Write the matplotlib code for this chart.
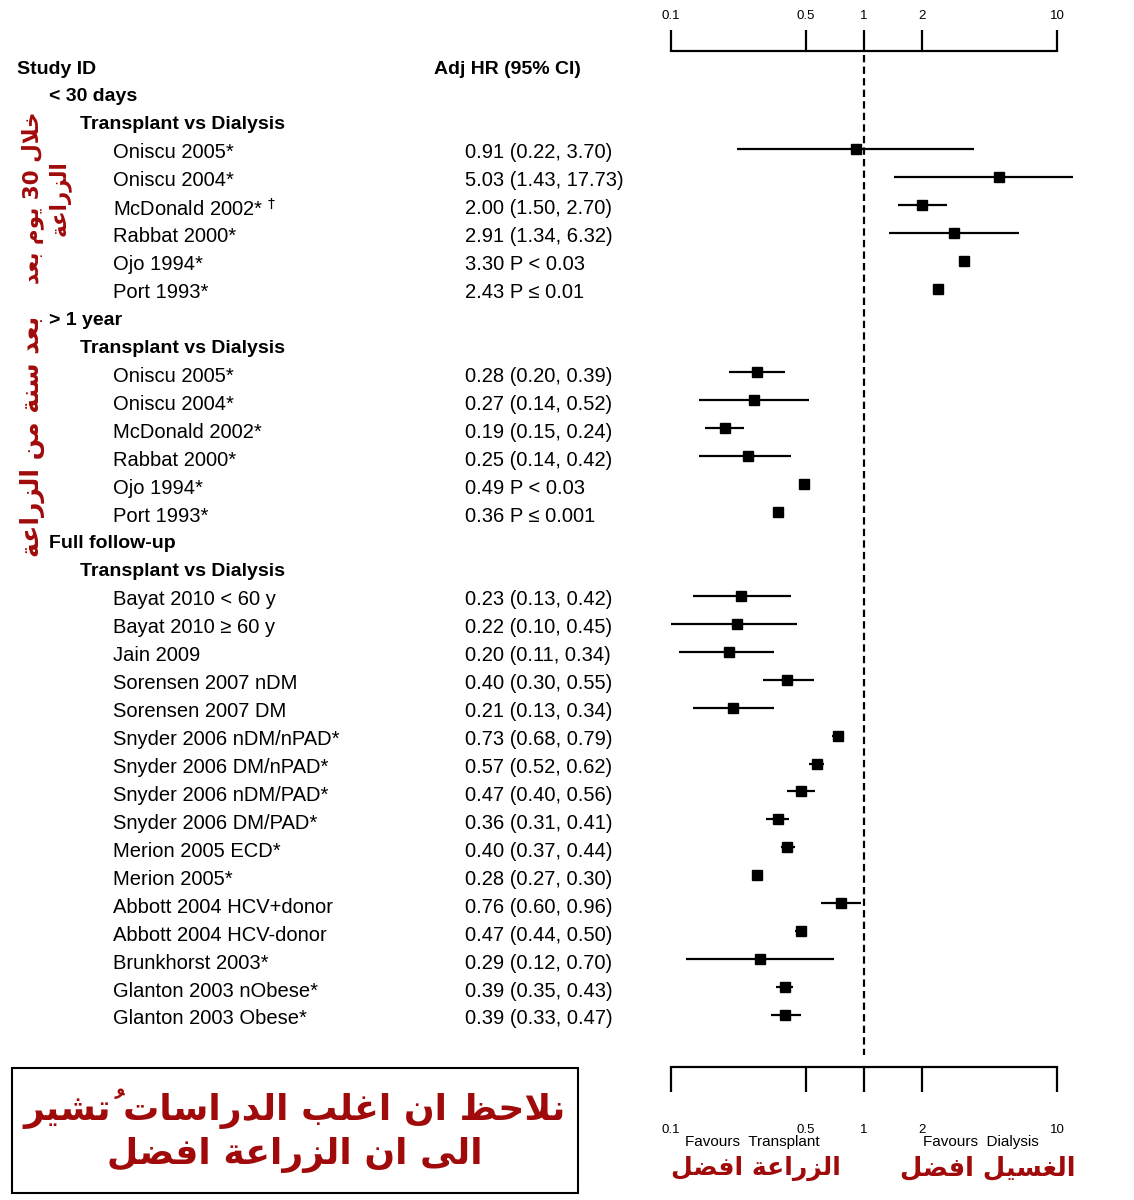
import numpy as np
import matplotlib
matplotlib.use("Agg")
import matplotlib.pyplot as plt
from matplotlib.patches import Rectangle

plt.rcParams["font.family"] = ["Liberation Sans", "DejaVu Sans"]

# ---- data ----
sections = ["< 30 days", "> 1 year", "Full follow-up"]
group_label = "Transplant vs Dialysis"

studies_30d = ["Oniscu 2005*", "Oniscu 2004*", "McDonald 2002* $^{\\dagger}$", "Rabbat 2000*",
               "Ojo 1994*", "Port 1993*"]
hr_30d = [0.91, 5.03, 2.00, 2.91, 3.30, 2.43]
lo_30d = [0.22, 1.43, 1.50, 1.34, np.nan, np.nan]
hi_30d = [3.70, 17.73, 2.70, 6.32, np.nan, np.nan]
p_30d = [None, None, None, None, "P < 0.03", "P \u2264 0.01"]

studies_1y = ["Oniscu 2005*", "Oniscu 2004*", "McDonald 2002*", "Rabbat 2000*",
              "Ojo 1994*", "Port 1993*"]
hr_1y = [0.28, 0.27, 0.19, 0.25, 0.49, 0.36]
lo_1y = [0.20, 0.14, 0.15, 0.14, np.nan, np.nan]
hi_1y = [0.39, 0.52, 0.24, 0.42, np.nan, np.nan]
p_1y = [None, None, None, None, "P < 0.03", "P \u2264 0.001"]

studies_full = ["Bayat 2010 < 60 y", "Bayat 2010 \u2265 60 y", "Jain 2009",
                "Sorensen 2007 nDM", "Sorensen 2007 DM", "Snyder 2006 nDM/nPAD*",
                "Snyder 2006 DM/nPAD*", "Snyder 2006 nDM/PAD*", "Snyder 2006 DM/PAD*",
                "Merion 2005 ECD*", "Merion 2005*", "Abbott 2004 HCV+donor",
                "Abbott 2004 HCV-donor", "Brunkhorst 2003*", "Glanton 2003 nObese*",
                "Glanton 2003 Obese*"]
hr_full = [0.23, 0.22, 0.20, 0.40, 0.21, 0.73, 0.57, 0.47, 0.36, 0.40, 0.28, 0.76,
           0.47, 0.29, 0.39, 0.39]
lo_full = [0.13, 0.10, 0.11, 0.30, 0.13, 0.68, 0.52, 0.40, 0.31, 0.37, 0.27, 0.60,
           0.44, 0.12, 0.35, 0.33]
hi_full = [0.42, 0.45, 0.34, 0.55, 0.34, 0.79, 0.62, 0.56, 0.41, 0.44, 0.30, 0.96,
           0.50, 0.70, 0.43, 0.47]
p_full = [None] * len(hr_full)

ticks = [0.1, 0.5, 1, 2, 10]
tick_labels = ["0.1", "0.5", "1", "2", "10"]

ar_30d = ["خلال 30 يوم بعد", "الزراعة"]
ar_1y = "بعد سنة من الزراعة"
ar_note = ["نلاحظ ان اغلب الدراسات تُشير", "الى ان الزراعة افضل"]
ar_left = "الزراعة افضل"
ar_right = "الغسيل افضل"

# ---- tiny arabic shaper (presentation forms + visual order) ----
FORMS = {
    "ا": (0xFE8D, 2), "ب": (0xFE8F, 4), "ة": (0xFE93, 2), "ت": (0xFE95, 4),
    "ح": (0xFEA1, 4), "خ": (0xFEA5, 4), "د": (0xFEA9, 2), "ر": (0xFEAD, 2),
    "ز": (0xFEAF, 2), "س": (0xFEB1, 4), "ش": (0xFEB5, 4), "ض": (0xFEBD, 4),
    "ظ": (0xFEC5, 4), "ع": (0xFEC9, 4), "غ": (0xFECD, 4), "ف": (0xFED1, 4),
    "ل": (0xFEDD, 4), "م": (0xFEE1, 4), "ن": (0xFEE5, 4), "و": (0xFEED, 2),
    "ى": (0xFEEF, 2), "ي": (0xFEF1, 4), "LA": (0xFEFB, 2),
}
MARKS = {"\u064F"}


def shape_word(word):
    if not any(c in FORMS for c in word):
        return word
    clusters = []
    for c in word:
        if c in MARKS and clusters:
            clusters[-1][1] += c
        else:
            clusters.append([c, ""])
    merged = []
    for cl in clusters:
        if merged and cl[0] == "ا" and merged[-1][0] == "ل" and not merged[-1][1]:
            merged[-1] = ["LA", cl[1]]
        else:
            merged.append(cl)
    out = []
    for i, (b, m) in enumerate(merged):
        base, n = FORMS[b]
        prev_join = i > 0 and FORMS[merged[i - 1][0]][1] == 4
        next_join = n == 4 and i < len(merged) - 1
        if prev_join and next_join:
            k = 3
        elif prev_join:
            k = 1
        elif next_join:
            k = 2
        else:
            k = 0
        out.append(chr(base + k) + m)
    return "".join(reversed(out))


def ar(line):
    return " ".join(reversed([shape_word(w) for w in line.split()]))


# ---- layout ----
W, H = 1134, 1200
fig = plt.figure(figsize=(W / 100, H / 100), dpi=100)
ax = fig.add_axes([0, 0, 1, 1])
ax.set_xlim(0, W)
ax.set_ylim(H, 0)
ax.axis("off")

x0, x1 = 671, 1057          # 0.1 and 10
x_clip = 1073
dec = (x1 - x0) / 2
axf = fig.add_axes([x0 / W, 0, (x_clip - x0) / W, 1])
axf.set_xscale("log")
axf.set_xlim(0.1, 10 ** (-1 + (x_clip - x0) / dec))
axf.set_ylim(H, 0)
axf.axis("off")

row_y = lambda i: 68 + 27.94 * i
FS = 14.5
red = "#a00a0a"

ax.text(17, row_y(0) + 1, "Study ID", fontsize=14, fontweight="bold", va="center")
ax.text(434, row_y(0) + 1, "Adj HR (95% CI)", fontsize=14, fontweight="bold", va="center")

blocks = [(studies_30d, hr_30d, lo_30d, hi_30d, p_30d),
          (studies_1y, hr_1y, lo_1y, hi_1y, p_1y),
          (studies_full, hr_full, lo_full, hi_full, p_full)]
r = 1
for sec, (names, hr, lo, hi, pv) in zip(sections, blocks):
    ax.text(49, row_y(r) + 1, sec, fontsize=14, fontweight="bold", va="center")
    ax.text(80, row_y(r + 1) + 1, group_label, fontsize=14, fontweight="bold", va="center")
    r += 2
    ys = []
    for name, h, l, u, p in zip(names, hr, lo, hi, pv):
        y = row_y(r)
        ys.append(y - 3)
        ax.text(113, y + 1, name, fontsize=FS, va="center")
        txt = f"{h:.2f} {p}" if p else f"{h:.2f} ({l:.2f}, {u:.2f})"
        ax.text(465, y + 1, txt, fontsize=FS, va="center")
        r += 1
    ys = np.array(ys)
    lo_a, hi_a = np.array(lo), np.array(hi)
    ok = ~np.isnan(lo_a)
    axf.hlines(ys[ok], lo_a[ok], hi_a[ok], color="black", lw=1.6)
    axf.plot(hr, ys, ls="none", marker="s", ms=6.8, color="black")

axf.vlines(1, 55, 1055, color="black", lw=1.6, linestyles=(0, (3.3, 1.9)))

# top scale
axt = fig.add_axes([x0 / W, (H - 51) / H, (x1 - x0) / W, 15 / H])
# bottom scale
axb = fig.add_axes([x0 / W, (H - 1085) / H, (x1 - x0) / W, 18 / H])
for a, top in ((axt, True), (axb, False)):
    a.set_xscale("log")
    a.set_xlim(0.1, 10)
    a.set_yticks([])
    a.patch.set_alpha(0)
    for s in a.spines.values():
        s.set_visible(False)
    sp = a.spines["bottom" if top else "top"]
    sp.set_visible(True)
    sp.set_linewidth(1.6)
    a.set_xticks(ticks)
    a.set_xticklabels(tick_labels)
    a.minorticks_off()
    a.tick_params(axis="x", direction="in", width=1.6, labelsize=9.5,
                  bottom=top, top=not top, labeltop=top, labelbottom=not top,
                  length=15 if top else 18, pad=10 if top else 28)

ax.text(752, 1142, "Favours  Transplant", fontsize=11, ha="center", va="center")
ax.text(981, 1142, "Favours  Dialysis", fontsize=11, ha="center", va="center")

# arabic annotations
afont = dict(family="DejaVu Sans", fontweight="bold", color=red)
ax.text(46, 198, ar(ar_30d[0]) + "\n" + ar(ar_30d[1]), fontsize=15.5, rotation=90,
        ha="center", va="center", multialignment="center", linespacing=1.25, **afont)
ax.text(32, 436, ar(ar_1y), fontsize=18, rotation=90, ha="center", va="center", **afont)
ax.add_patch(Rectangle((12, 1068), 566, 125, fill=False, edgecolor="black", lw=1.5))
ax.text(295, 1131, ar(ar_note[0]) + "\n" + ar(ar_note[1]), fontsize=26,
        ha="center", va="center", multialignment="center", linespacing=1.3, **afont)
ax.text(756, 1168, ar(ar_left), fontsize=18, ha="center", va="center", **afont)
ax.text(988, 1168, ar(ar_right), fontsize=18.5, ha="center", va="center", **afont)

fig.savefig("out.png", dpi=100)
